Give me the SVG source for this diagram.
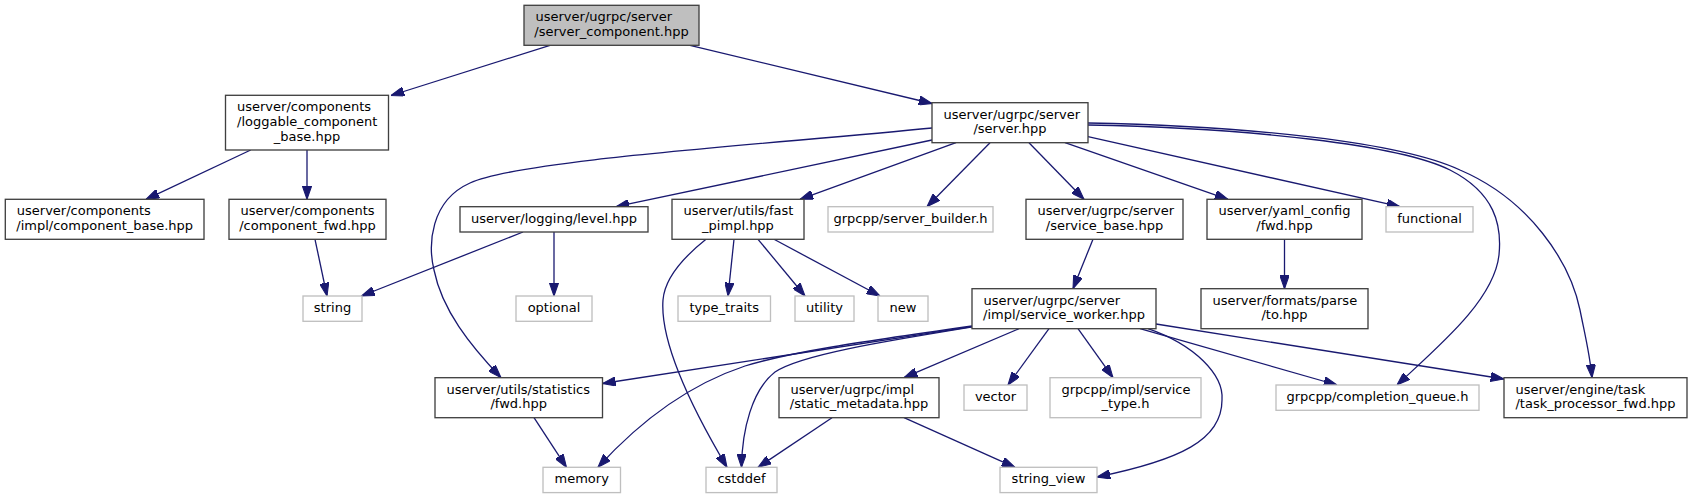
<svg xmlns="http://www.w3.org/2000/svg" width="1692" height="499" viewBox="0 0 1692 499">
<defs>
<style>
rect{fill:#ffffff;stroke:#404040;stroke-width:1.33}
.x rect{stroke:#bfbfbf}
.r rect{fill:#bfbfbf}
text{font-family:"DejaVu Sans","Liberation Sans",sans-serif;font-size:13px;fill:#000000}
.m{text-anchor:middle}
#edges path{fill:none;stroke:#191970;stroke-width:1.3;marker-end:url(#a)}
</style>
<marker id="a" viewBox="0 0 10 7" markerWidth="13.3" markerHeight="9.3" refX="10" refY="3.5" orient="auto" markerUnits="userSpaceOnUse">
<path d="M0,0 L10,3.5 L0,7 z" fill="#191970" stroke="#191970" stroke-width="0.8"/>
</marker>
</defs>
<rect x="0" y="0" width="1692" height="499" style="fill:#ffffff;stroke:none"/>
<g id="edges">
<path d="M550,45.3 L391,95.5"/>
<path d="M690,45.3 L932,103.5"/>
<path d="M250.7,150 L146,199.3"/>
<path d="M307,150 L307,199.3"/>
<path d="M315,239.3 L327,296"/>
<path d="M523,232 L361.5,296"/>
<path d="M554,232 L554,296"/>
<path d="M932,128 C760,145 520,160 470,183 C430,201 428,245 434,270 C442,310 470,345 501,377.7"/>
<path d="M932,140 L616,206.7"/>
<path d="M956,142.7 L800,199.3"/>
<path d="M990,142.7 L927,206.7"/>
<path d="M1029,142.7 L1084,199.3"/>
<path d="M1065,142.7 L1228,199.3"/>
<path d="M1088,136.7 L1400,206.7"/>
<path d="M1088,125 C1250,128 1400,145 1450,170 C1495,193 1502,225 1499,255 C1494,300 1440,345 1397,385"/>
<path d="M1088,123 C1250,126 1400,142 1460,170 C1530,200 1570,262 1580,310 C1585,335 1590,355 1592,377.7"/>
<path d="M706,239.3 C690,252 665,275 663,300 C660,340 690,405 727,467.3"/>
<path d="M734,239.3 L728,296"/>
<path d="M758,239.3 L805,296"/>
<path d="M774,239.3 L880,296"/>
<path d="M1093,239.3 L1073,288.7"/>
<path d="M1284.5,239.3 L1284.5,288.7"/>
<path d="M972,326.7 L602.5,383.5"/>
<path d="M972,326 C860,342 790,352 745,366 C700,381 650,410 598,467.3"/>
<path d="M972,327 C880,342 800,355 775,372 C752,390 742,430 741.5,467.3"/>
<path d="M1019,328.7 L904,377.7"/>
<path d="M1049,328.7 L1008,385"/>
<path d="M1078,328.7 L1113,377.7"/>
<path d="M1148,328.7 C1195,345 1224,375 1222,400 C1222,440 1180,460 1097,477"/>
<path d="M1140,328.7 L1337,385"/>
<path d="M1156,324 L1504,379"/>
<path d="M534,417.7 L566.5,467.3"/>
<path d="M832,417.7 L758,467.3"/>
<path d="M904,417.7 L1015,467.3"/>
</g>
<g id="n_root" class="r"><rect x="524" y="5.3" width="175" height="40"/><text x="535.5" y="21.3">userver/ugrpc/server</text><text class="m" x="611.5" y="36">/server_component.hpp</text></g>
<g id="n_loggable"><rect x="225.5" y="95.3" width="163" height="54.7"/><text x="237" y="111.3">userver/components</text><text x="237" y="126">/loggable_component</text><text class="m" x="307" y="140.6">_base.hpp</text></g>
<g id="n_server"><rect x="932" y="102.7" width="156" height="40"/><text x="943.5" y="118.7">userver/ugrpc/server</text><text class="m" x="1010" y="133.3">/server.hpp</text></g>
<g id="n_component_base"><rect x="5.3" y="199.3" width="198.7" height="40"/><text x="16.8" y="215.3">userver/components</text><text class="m" x="104.7" y="230">/impl/component_base.hpp</text></g>
<g id="n_component_fwd"><rect x="229" y="199.3" width="157" height="40"/><text x="240.5" y="215.3">userver/components</text><text class="m" x="307.5" y="230">/component_fwd.hpp</text></g>
<g id="n_level"><rect x="460" y="206.7" width="188" height="25.3"/><text class="m" x="554" y="222.7">userver/logging/level.hpp</text></g>
<g id="n_fast_pimpl"><rect x="672" y="199.3" width="132" height="40"/><text x="683.5" y="215.3">userver/utils/fast</text><text class="m" x="738" y="230">_pimpl.hpp</text></g>
<g id="n_server_builder" class="x"><rect x="828" y="206.7" width="165" height="25.3"/><text class="m" x="910.5" y="222.7">grpcpp/server_builder.h</text></g>
<g id="n_service_base"><rect x="1026" y="199.3" width="157" height="40"/><text x="1037.5" y="215.3">userver/ugrpc/server</text><text class="m" x="1104.5" y="230">/service_base.hpp</text></g>
<g id="n_yaml_fwd"><rect x="1207" y="199.3" width="155" height="40"/><text x="1218.5" y="215.3">userver/yaml_config</text><text class="m" x="1284.5" y="230">/fwd.hpp</text></g>
<g id="n_functional" class="x"><rect x="1386" y="206.7" width="87" height="25.3"/><text class="m" x="1429.5" y="222.7">functional</text></g>
<g id="n_string" class="x"><rect x="303" y="296" width="59" height="25.3"/><text class="m" x="332.5" y="312">string</text></g>
<g id="n_optional" class="x"><rect x="516" y="296" width="76" height="25.3"/><text class="m" x="554" y="312">optional</text></g>
<g id="n_type_traits" class="x"><rect x="678" y="296" width="92.5" height="25.3"/><text class="m" x="724.2" y="312">type_traits</text></g>
<g id="n_utility" class="x"><rect x="795" y="296" width="59" height="25.3"/><text class="m" x="824.5" y="312">utility</text></g>
<g id="n_new" class="x"><rect x="878" y="296" width="50" height="25.3"/><text class="m" x="903" y="312">new</text></g>
<g id="n_service_worker"><rect x="972" y="288.7" width="184" height="40"/><text x="983.5" y="304.7">userver/ugrpc/server</text><text class="m" x="1064" y="319.3">/impl/service_worker.hpp</text></g>
<g id="n_parse_to"><rect x="1201" y="288.7" width="167" height="40"/><text x="1212.5" y="304.7">userver/formats/parse</text><text class="m" x="1284.5" y="319.3">/to.hpp</text></g>
<g id="n_statistics_fwd"><rect x="435" y="377.7" width="167.5" height="40"/><text x="446.5" y="393.7">userver/utils/statistics</text><text class="m" x="518.7" y="408.3">/fwd.hpp</text></g>
<g id="n_static_metadata"><rect x="779" y="377.7" width="160" height="40"/><text x="790.5" y="393.7">userver/ugrpc/impl</text><text class="m" x="859" y="408.3">/static_metadata.hpp</text></g>
<g id="n_vector" class="x"><rect x="964" y="385" width="63" height="25.3"/><text class="m" x="995.5" y="401">vector</text></g>
<g id="n_service_type" class="x"><rect x="1050" y="377.7" width="151" height="40"/><text x="1061.5" y="393.7">grpcpp/impl/service</text><text class="m" x="1125.5" y="408.3">_type.h</text></g>
<g id="n_completion_queue" class="x"><rect x="1276" y="385" width="203" height="25.3"/><text class="m" x="1377.5" y="401">grpcpp/completion_queue.h</text></g>
<g id="n_task_processor_fwd"><rect x="1504" y="377.7" width="183" height="40"/><text x="1515.5" y="393.7">userver/engine/task</text><text class="m" x="1595.5" y="408.3">/task_processor_fwd.hpp</text></g>
<g id="n_memory" class="x"><rect x="543" y="467.3" width="77.5" height="25.3"/><text class="m" x="581.7" y="483.3">memory</text></g>
<g id="n_cstddef" class="x"><rect x="706" y="467.3" width="71" height="25.3"/><text class="m" x="741.5" y="483.3">cstddef</text></g>
<g id="n_string_view" class="x"><rect x="1000" y="467.3" width="97" height="25.3"/><text class="m" x="1048.5" y="483.3">string_view</text></g>
</svg>
